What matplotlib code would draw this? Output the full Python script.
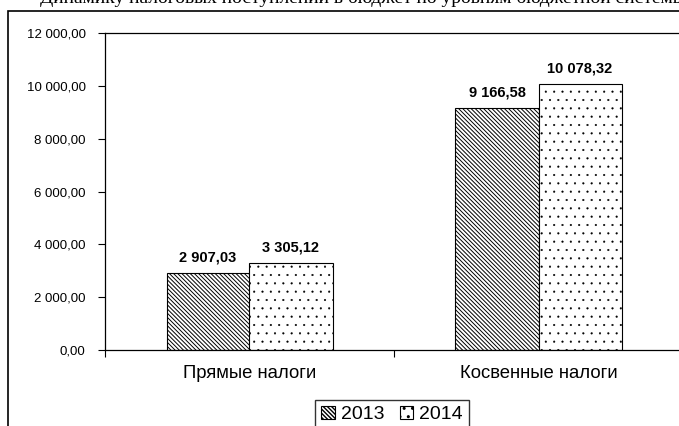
import matplotlib
matplotlib.use("Agg")
import matplotlib.pyplot as plt
from matplotlib.patches import Rectangle, Patch
from matplotlib.ticker import FuncFormatter
import numpy as np

categories = ["Прямые налоги", "Косвенные налоги"]
years = ["2013", "2014"]
values_2013 = [2907.03, 9166.58]
values_2014 = [3305.12, 10078.32]
yticks = [0, 2000, 4000, 6000, 8000, 10000, 12000]

plt.rcParams["font.family"] = ["Liberation Sans", "DejaVu Sans"]
plt.rcParams["hatch.color"] = "black"

W, H = 679, 426
fig = plt.figure(figsize=(W / 100, H / 100), dpi=100)

def fx(px):
    return px / W

def fy(py):
    return 1 - py / H

# outer chart border, runs off the right and bottom edges
fig.patches.append(Rectangle((fx(8), fy(700)), fx(900), fy(11) - fy(700),
                             transform=fig.transFigure, fill=False,
                             edgecolor="black", linewidth=1.2))

# tail of the line of text above the chart
fig.text(fx(40), fy(3), "Динамику налоговых поступлений в бюджет по уровням бюджетной системы",
         family="Liberation Serif", fontsize=14, va="baseline", ha="left", color="black")

ax = fig.add_axes([fx(105), fy(350), fx(683) - fx(105), fy(33) - fy(350)])

def fmt(v):
    s = f"{v:,.2f}"
    return s.replace(",", " ").replace(".", ",")

hatch_2013 = "\\" * 8
hatch_2014 = ".."

x = np.arange(len(categories)) + 0.5
width = 83 / 289
with plt.rc_context({"hatch.linewidth": 0.7}):
    b1 = ax.bar(x - width / 2, values_2013, width, color="white", edgecolor="black",
                hatch=hatch_2013, linewidth=0.8)
    h1 = Patch(facecolor="white", edgecolor="black", hatch=hatch_2013, linewidth=0.8)
with plt.rc_context({"hatch.linewidth": 0.3}):
    b2 = ax.bar(x + width / 2, values_2014, width, color="white", edgecolor="black",
                hatch=hatch_2014, linewidth=0.8)
    h2 = Patch(facecolor="white", edgecolor="black", hatch=hatch_2014, linewidth=0.8)

for bars, vals in ((b1, values_2013), (b2, values_2014)):
    for rect, v in zip(bars, vals):
        ax.annotate(fmt(v), (rect.get_x() + rect.get_width() / 2, v),
                    xytext=(0, 6), textcoords="offset points",
                    ha="center", va="bottom", fontsize=10.5, fontweight="bold")

ax.set_xlim(0, 2)
ax.set_ylim(0, 12000)
ax.set_yticks(yticks)
ax.yaxis.set_major_formatter(FuncFormatter(lambda v, p: fmt(v)))
ax.set_xticks([0, 1, 2])
ax.set_xticklabels([])
ax.set_xticks(x, minor=True)
ax.set_xticklabels(categories, minor=True, fontsize=13.3)
ax.tick_params(axis="x", which="minor", length=0, pad=11)
ax.tick_params(axis="x", which="major", length=5, width=0.8)
ax.tick_params(axis="y", length=5, width=0.8, labelsize=9.5, pad=9)
for sp in ax.spines.values():
    sp.set_linewidth(0.9)
    sp.set_color("black")

leg = fig.legend([h1, h2], years, loc="upper center", bbox_to_anchor=(fx(392), fy(400)),
                 ncol=2, fontsize=14, frameon=True, fancybox=False, edgecolor="black",
                 handlelength=0.7, handleheight=0.7, handletextpad=0.3, columnspacing=0.8,
                 borderpad=0.3, borderaxespad=0)
leg.get_frame().set_linewidth(1.0)

fig.savefig("out.png", dpi=100)
